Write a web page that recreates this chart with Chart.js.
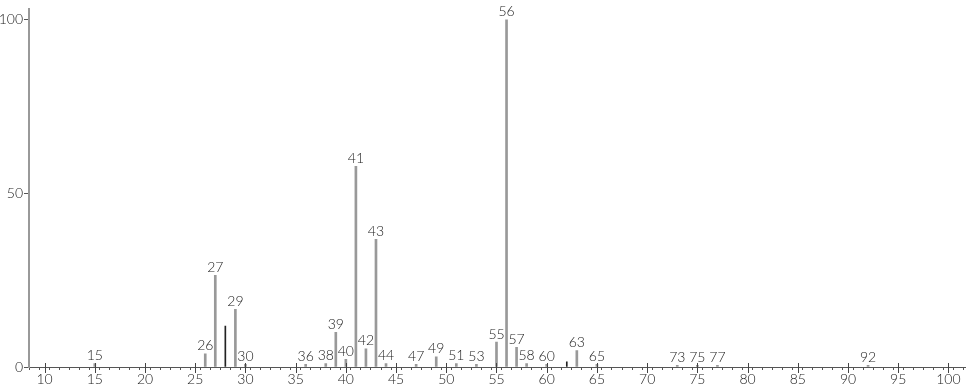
<!DOCTYPE html>
<html>
<head>
<meta charset="utf-8">
<script src="https://cdn.jsdelivr.net/npm/chart.js@4"></script>
<style>
  html, body { margin: 0; padding: 0; background: #fff; }
  #wrap { width: 966px; height: 389px; position: relative; }
</style>
</head>
<body>
<div id="wrap"><canvas id="spec"></canvas></div>
<script>
// m/z values and relative intensities
const mz        = [15, 26, 27, 28, 29, 30, 36, 38, 39, 40, 41, 42, 43, 44, 47, 49, 51, 53, 55, 56, 57, 58, 60, 62, 63, 65, 73, 75, 77, 92];
const intensity = [1, 3.8, 26.4, 11.8, 16.6, 0.8, 0.8, 1, 10, 2.2, 57.8, 5.2, 36.8, 1, 0.8, 2.9, 1, 0.8, 7.2, 100, 5.7, 1, 0.8, 1.5, 4.7, 0.8, 0.5, 0.5, 0.5, 0.5];
const unlabeled = [28, 62];
const xTickLabels = [10, 15, 20, 25, 30, 35, 40, 45, 50, 55, 60, 65, 70, 75, 80, 85, 90, 95, 100];
const yTickLabels = [0, 50, 100];

const FONT = 'Lato, "DejaVu Sans", sans-serif';

const labeledPts = [], darkPts = [];
mz.forEach((m, i) => {
  (unlabeled.includes(m) ? darkPts : labeledPts).push({ x: m, y: intensity[i] });
});

const peakLabels = {
  id: 'peakLabels',
  afterDatasetsDraw(chart) {
    const { ctx, scales: { x, y } } = chart;
    ctx.save();
    ctx.font = '300 14px ' + FONT;
    ctx.fillStyle = '#222';
    ctx.textAlign = 'center';
    ctx.textBaseline = 'bottom';
    mz.forEach((m, i) => {
      if (unlabeled.includes(m)) return;
      ctx.fillText(String(m), x.getPixelForValue(m), y.getPixelForValue(intensity[i]) - 1);
    });
    // longer marks at the labelled x ticks, reaching above the axis
    ctx.strokeStyle = '#444';
    ctx.lineWidth = 1;
    const base = y.getPixelForValue(0);
    xTickLabels.forEach(v => {
      const px = Math.round(x.getPixelForValue(v)) + 0.5;
      ctx.beginPath();
      ctx.moveTo(px, base - 4);
      ctx.lineTo(px, base + 6);
      ctx.stroke();
    });
    ctx.restore();
  }
};

new Chart(document.getElementById('spec'), {
  type: 'bar',
  data: {
    datasets: [
      { data: labeledPts, backgroundColor: '#999', barThickness: 2, borderWidth: 0, grouped: false },
      { data: darkPts, backgroundColor: '#222', barThickness: 1, borderWidth: 0, grouped: false }
    ]
  },
  options: {
    responsive: true,
    maintainAspectRatio: false,
    animation: false,
    layout: { padding: { top: 2, right: 0, left: 0, bottom: 0 } },
    plugins: { legend: { display: false }, tooltip: { enabled: false } },
    scales: {
      x: {
        type: 'linear',
        min: 8.45,
        max: 101.75,
        offset: false,
        afterBuildTicks(axis) {
          const t = [];
          for (let v = 9; v <= 101; v++) t.push({ value: v });
          axis.ticks = t;
        },
        afterFit(axis) { axis.height = 22; },
        ticks: {
          autoSkip: false,
          maxRotation: 0,
          padding: 1,
          color: '#222',
          font: { family: FONT, size: 14, weight: '300' },
          callback: v => (v % 5 === 0 ? String(v) : '')
        },
        grid: { drawOnChartArea: false, tickLength: 3, color: '#555' },
        border: { color: '#555', width: 1 }
      },
      y: {
        min: 0,
        max: 103,
        afterBuildTicks(axis) {
          axis.ticks = yTickLabels.map(v => ({ value: v }));
        },
        afterFit(axis) { axis.width = 29; },
        ticks: {
          color: '#222',
          padding: 1,
          font: { family: FONT, size: 14, weight: '300' }
        },
        grid: { drawOnChartArea: false, tickLength: 5, color: '#555' },
        border: { color: '#999', width: 2 }
      }
    }
  },
  plugins: [peakLabels]
});
</script>
</body>
</html>
